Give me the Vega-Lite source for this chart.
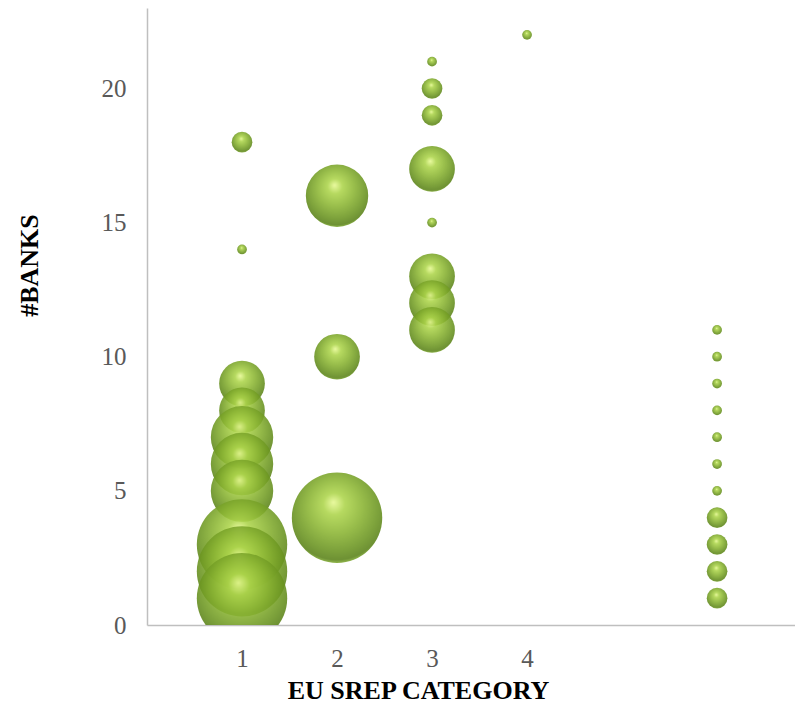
{
  "$schema": "https://vega.github.io/schema/vega-lite/v6.json",
  "width": 648,
  "height": 617,
  "autosize": "none",
  "padding": {"left": 147, "top": 8, "right": 0, "bottom": 84},
  "background": "white",
  "config": {
    "view": {"stroke": null},
    "axis": {
      "grid": false,
      "ticks": false,
      "tickSize": 0,
      "domainColor": "#bfbfbf",
      "domainWidth": 1.5,
      "labelFont": "Liberation Serif",
      "labelFontSize": 25,
      "labelColor": "#595959",
      "titleFont": "Liberation Serif",
      "titleFontSize": 26,
      "titleFontWeight": "bold",
      "titleColor": "#000000"
    }
  },
  "data": {
    "values": [
      {"category": 1, "banks": 18, "weight": 4.5},
      {"category": 1, "banks": 14, "weight": 1},
      {"category": 1, "banks": 9, "weight": 22},
      {"category": 1, "banks": 8, "weight": 22},
      {"category": 1, "banks": 7, "weight": 41},
      {"category": 1, "banks": 6, "weight": 41},
      {"category": 1, "banks": 5, "weight": 41},
      {"category": 1, "banks": 3, "weight": 86},
      {"category": 1, "banks": 2, "weight": 86},
      {"category": 1, "banks": 1, "weight": 86},
      {"category": 2, "banks": 16, "weight": 41},
      {"category": 2, "banks": 10, "weight": 22},
      {"category": 2, "banks": 4, "weight": 86},
      {"category": 3, "banks": 21, "weight": 1},
      {"category": 3, "banks": 20, "weight": 4.5},
      {"category": 3, "banks": 19, "weight": 4.5},
      {"category": 3, "banks": 17, "weight": 22},
      {"category": 3, "banks": 15, "weight": 1},
      {"category": 3, "banks": 13, "weight": 22},
      {"category": 3, "banks": 12, "weight": 22},
      {"category": 3, "banks": 11, "weight": 22},
      {"category": 4, "banks": 22, "weight": 1},
      {"category": 6, "banks": 11, "weight": 1},
      {"category": 6, "banks": 10, "weight": 1},
      {"category": 6, "banks": 9, "weight": 1},
      {"category": 6, "banks": 8, "weight": 1},
      {"category": 6, "banks": 7, "weight": 1},
      {"category": 6, "banks": 6, "weight": 1},
      {"category": 6, "banks": 5, "weight": 1},
      {"category": 6, "banks": 4, "weight": 4.5},
      {"category": 6, "banks": 3, "weight": 4.5},
      {"category": 6, "banks": 2, "weight": 4.5},
      {"category": 6, "banks": 1, "weight": 4.5}
    ]
  },
  "mark": {
    "type": "point",
    "shape": "circle",
    "filled": true,
    "clip": true,
    "opacity": 0.88,
    "strokeWidth": 0,
    "fill": {
      "gradient": "radial",
      "x1": 0.46, "y1": 0.33, "r1": 0,
      "x2": 0.5, "y2": 0.42, "r2": 0.6,
      "stops": [
        {"offset": 0, "color": "#e6f992"},
        {"offset": 0.2, "color": "#acd44a"},
        {"offset": 0.5, "color": "#8ab432"},
        {"offset": 0.78, "color": "#6a9420"},
        {"offset": 0.92, "color": "#5a8218"},
        {"offset": 1, "color": "#98c444"}
      ]
    }
  },
  "encoding": {
    "x": {
      "field": "category",
      "type": "quantitative",
      "scale": {"domain": [0, 6.82], "nice": false, "zero": false},
      "axis": {
        "values": [1, 2, 3, 4],
        "labelPadding": 21,
        "labelBaseline": "top",
        "title": "EU SREP CATEGORY",
        "titleX": 271,
        "titleY": 73,
        "titleAlign": "center",
        "titleBaseline": "alphabetic"
      }
    },
    "y": {
      "field": "banks",
      "type": "quantitative",
      "scale": {"domain": [0, 23], "nice": false},
      "axis": {
        "values": [0, 5, 10, 15, 20],
        "labelPadding": 21,
        "title": "#BANKS",
        "titleAngle": -90,
        "titleX": -110,
        "titleY": 257,
        "titleAlign": "center",
        "titleBaseline": "alphabetic"
      }
    },
    "size": {
      "field": "weight",
      "type": "quantitative",
      "scale": {"type": "linear", "domain": [0, 86], "range": [0, 8171]},
      "legend": null
    }
  }
}
